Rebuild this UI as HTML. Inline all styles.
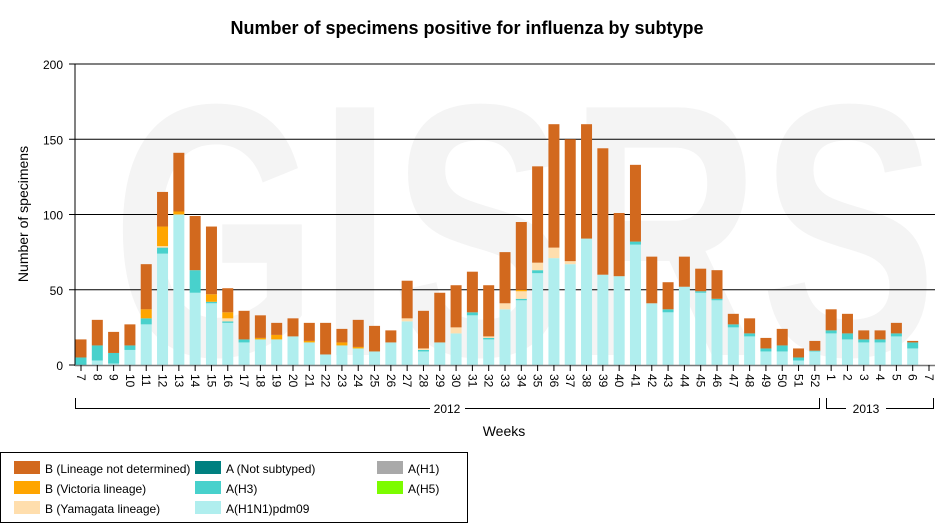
<!DOCTYPE html>
<html><head><meta charset="utf-8"><style>
html,body{margin:0;padding:0;background:#fff;}
svg{display:block;font-family:"Liberation Sans",Arial,sans-serif;}
</style></head><body>
<svg id="s" width="935" height="529" xmlns="http://www.w3.org/2000/svg">
<text x="112" y="355" font-size="360" font-weight="bold" fill="#f4f4f4" textLength="825" lengthAdjust="spacingAndGlyphs">GISRS</text>
<text x="467" y="34" text-anchor="middle" font-size="18" font-weight="bold" fill="#000">Number of specimens positive for influenza by subtype</text>
<g id="grid"></g>
<g id="bars"></g>
<g id="axes"></g>
</svg>
<script>
var s=document.getElementById('s'),NS="http://www.w3.org/2000/svg";
function el(t,a,p,txt){var e=document.createElementNS(NS,t);for(var k in a)e.setAttribute(k,a[k]);if(txt!==undefined)e.textContent=txt;(p||s).appendChild(e);return e;}
var y0=365,sc=301/200,x0=75;
function Y(v){return y0-v*sc;}
var g=document.getElementById('grid'),ax=document.getElementById('axes'),b=document.getElementById('bars');
[50,100,150,200].forEach(function(v){el('line',{x1:x0,x2:935,y1:Y(v),y2:Y(v),stroke:'#000','stroke-width':1},g);});
[0,50,100,150,200].forEach(function(v){el('text',{x:63,y:Y(v)+5,'text-anchor':'end','font-size':12},ax,v);el('line',{x1:69,x2:x0,y1:Y(v),y2:Y(v),stroke:'#000'},ax);});
el('line',{x1:x0,x2:x0,y1:64,y2:366,stroke:'#000'},ax);
el('line',{x1:x0,x2:935,y1:365.5,y2:365.5,stroke:'#777','stroke-width':1.5},ax);
var d=[[0,5,5,5,17],[3,13,13,13,30],[1,8,8,8,22],[10,13,13,13,27],[27,31,31,37,67],[74,78,79,92,115],[100,100,100,102,141],[48,63,63,63,99],[41,42,42,47,92],[28,29,31,35,51],[15,17,17,17,36],[17,17,17,18,33],[17,17,17,20,28],[19,19,19,19,31],[15,15,15,16,28],[7,7,7,7,28],[13,13,13,15,24],[11,11,11,12,30],[9,9,9,9,26],[15,15,15,15,23],[29,29,31,31,56],[9,10,11,11,36],[15,15,15,15,48],[21,21,25,25,53],[33,35,35,35,62],[17,18,19,19,53],[37,37,41,41,75],[43,44,49,50,95],[61,63,68,68,132],[71,71,78,78,160],[67,67,69,69,150],[84,84,84,84,160],[60,60,60,60,144],[59,59,59,59,101],[80,82,82,82,133],[41,41,41,41,72],[35,37,37,37,55],[52,52,52,52,72],[48,49,49,49,64],[43,44,44,44,63],[25,27,27,27,34],[19,21,21,21,31],[9,11,11,11,18],[9,13,13,13,24],[3,5,5,5,11],[9,9.5,9.5,9.5,16],[21,23,23,23,37],[17,21,21,21,34],[15,17,17,17,23],[15,17,17,17,23],[19,21,21,21,28],[11,15,15,15,16],[0,0,0,0,0]];
var labels=[];for(var i=7;i<=52;i++)labels.push(i);for(i=1;i<=7;i++)labels.push(i);
var cols=['#b0eeee','#48d1cc','#ffdead','#ffa500','#d2691e'];
var step=(929-81)/52;
d.forEach(function(r,i){var cx=81+i*step,prev=0;
 for(var k=0;k<5;k++){var v=r[k];if(v>prev){el('rect',{x:cx-5.5,y:Y(v),width:11,height:(v-prev)*sc,fill:cols[k]},b);}prev=Math.max(prev,v);}
 el('line',{x1:cx,x2:cx,y1:365,y2:371,stroke:'#000'},ax);
 el('text',{x:0,y:0,'font-size':12,transform:'translate('+(cx-4)+',374) rotate(90)'},ax,labels[i]);
});
el('path',{d:'M75.5,398 V408.5 H430 M465,408.5 H819.5 V398',stroke:'#000',fill:'none'},ax);
el('text',{x:447,y:413,'text-anchor':'middle','font-size':12},ax,'2012');
el('path',{d:'M826.5,398 V408.5 H846 M886,408.5 H933.5 V398',stroke:'#000',fill:'none'},ax);
el('text',{x:866,y:413,'text-anchor':'middle','font-size':12},ax,'2013');
el('text',{x:504,y:436,'text-anchor':'middle','font-size':14},ax,'Weeks');
el('text',{x:0,y:0,'text-anchor':'middle','font-size':14,transform:'translate(28,214) rotate(-90)'},ax,'Number of specimens');
el('rect',{x:0.5,y:452.5,width:467,height:70,fill:'#fff',stroke:'#000'},ax);
var L=[[14,461,'#d2691e','B (Lineage not determined)'],[14,481,'#ffa500','B (Victoria lineage)'],[14,501,'#ffdead','B (Yamagata lineage)'],
[195,461,'#008080','A (Not subtyped)'],[195,481,'#48d1cc','A(H3)'],[195,501,'#b0eeee','A(H1N1)pdm09'],
[377,461,'#a9a9a9','A(H1)'],[377,481,'#7cfc00','A(H5)']];
L.forEach(function(l){el('rect',{x:l[0],y:l[1],width:26,height:13,fill:l[2]},ax);el('text',{x:l[0]+31,y:l[1]+12,'font-size':12},ax,l[3]);});
</script>
</body></html>
